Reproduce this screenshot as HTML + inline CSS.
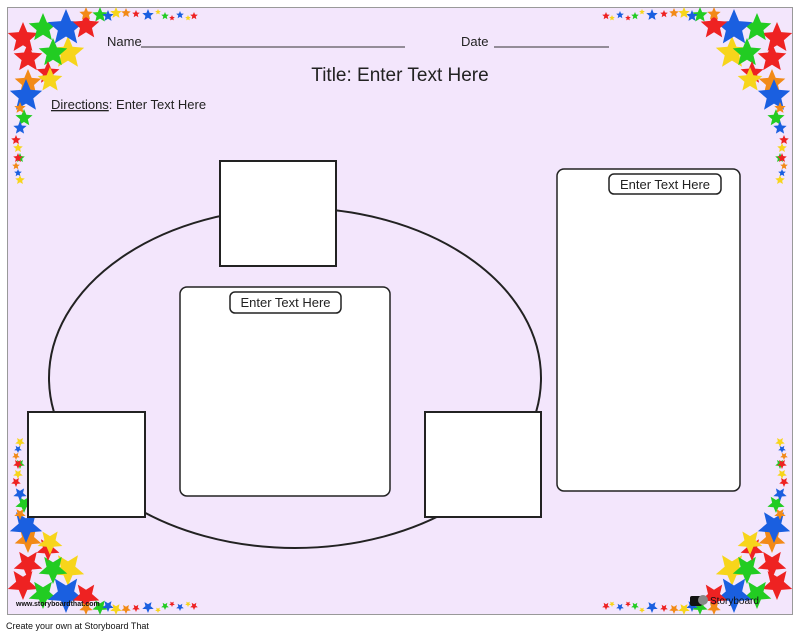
<!DOCTYPE html>
<html><head><meta charset="utf-8"><style>
html,body{margin:0;padding:0;background:#fff;width:800px;height:636px;overflow:hidden}
svg{display:block}
text{font-family:"Liberation Sans",sans-serif}
</style></head><body>
<svg width="800" height="636" viewBox="0 0 800 636" xmlns="http://www.w3.org/2000/svg">
<defs>
<polygon id="s" points="0,-1 .265,-.364 .951,-.309 .428,.139 .588,.809 0,.45 -.588,.809 -.428,.139 -.951,-.309 -.265,-.364"/>
<g id="corner">
<use href="#s" transform="translate(60,45) scale(17)" fill="#f7d51b"/>
<use href="#s" transform="translate(15,30) scale(16)" fill="#ee2222"/>
<use href="#s" transform="translate(35,20) scale(15)" fill="#22cc22"/>
<use href="#s" transform="translate(58,20) scale(19)" fill="#1a5fe0"/>
<use href="#s" transform="translate(78,18) scale(14)" fill="#ee2222"/>
<use href="#s" transform="translate(20,50) scale(15)" fill="#ee2222"/>
<use href="#s" transform="translate(45,45) scale(15)" fill="#22cc22"/>
<use href="#s" transform="translate(20,75) scale(14)" fill="#f28a17"/>
<use href="#s" transform="translate(40,65) scale(12)" fill="#ee2222"/>
<use href="#s" transform="translate(42,72) scale(13)" fill="#f7d51b"/>
<use href="#s" transform="translate(18,88) scale(17)" fill="#1a5fe0"/>
<use href="#s" transform="translate(16,110) scale(9)" fill="#22cc22"/>
<use href="#s" transform="translate(12,100) scale(6)" fill="#f28a17"/>
<use href="#s" transform="translate(12,120) scale(7)" fill="#1a5fe0"/>
<use href="#s" transform="translate(8,132) scale(5)" fill="#ee2222"/>
<use href="#s" transform="translate(10,140) scale(5)" fill="#f7d51b"/>
<use href="#s" transform="translate(12,150) scale(5)" fill="#22cc22"/>
<use href="#s" transform="translate(8,158) scale(4)" fill="#f28a17"/>
<use href="#s" transform="translate(10,165) scale(4)" fill="#1a5fe0"/>
<use href="#s" transform="translate(12,172) scale(5)" fill="#f7d51b"/>
<use href="#s" transform="translate(10,150) scale(5)" fill="#ee2222"/>
<use href="#s" transform="translate(78,6) scale(7)" fill="#f28a17"/>
<use href="#s" transform="translate(92,7) scale(8)" fill="#22cc22"/>
<use href="#s" transform="translate(100,8) scale(6)" fill="#1a5fe0"/>
<use href="#s" transform="translate(108,5) scale(6)" fill="#f7d51b"/>
<use href="#s" transform="translate(118,5) scale(5)" fill="#f28a17"/>
<use href="#s" transform="translate(128,6) scale(4)" fill="#ee2222"/>
<use href="#s" transform="translate(140,7) scale(6)" fill="#1a5fe0"/>
<use href="#s" transform="translate(150,4) scale(3)" fill="#f7d51b"/>
<use href="#s" transform="translate(157,8) scale(4)" fill="#22cc22"/>
<use href="#s" transform="translate(164,10) scale(3)" fill="#ee2222"/>
<use href="#s" transform="translate(172,7) scale(4)" fill="#1a5fe0"/>
<use href="#s" transform="translate(180,10) scale(3)" fill="#f7d51b"/>
<use href="#s" transform="translate(186,8) scale(4)" fill="#ee2222"/>
</g>
</defs>
<rect x="7.5" y="7.5" width="785" height="607" fill="#f3e6fc" stroke="#999" stroke-width="1"/>
<use href="#corner" transform="translate(8,8)"/>
<use href="#corner" transform="translate(792,8) scale(-1,1)"/>
<use href="#corner" transform="translate(8,614) scale(1,-1)"/>
<use href="#corner" transform="translate(792,614) scale(-1,-1)"/>

<text x="107" y="46" font-size="13" fill="#222">Name</text>
<line x1="141" y1="47" x2="405" y2="47" stroke="#333" stroke-width="1"/>
<text x="461" y="46" font-size="13" fill="#222">Date</text>
<line x1="494" y1="47" x2="609" y2="47" stroke="#333" stroke-width="1"/>
<text x="400" y="81" font-size="19" text-anchor="middle" fill="#222">Title: Enter Text Here</text>
<text x="51" y="109" font-size="13" fill="#222"><tspan text-decoration="underline">Directions</tspan>: Enter Text Here</text>

<ellipse cx="295" cy="378" rx="246" ry="170" fill="none" stroke="#222" stroke-width="2"/>
<rect x="220" y="161" width="116" height="105" fill="#fff" stroke="#222" stroke-width="2"/>
<rect x="28" y="412" width="117" height="105" fill="#fff" stroke="#222" stroke-width="2"/>
<rect x="425" y="412" width="116" height="105" fill="#fff" stroke="#222" stroke-width="2"/>
<rect x="180" y="287" width="210" height="209" rx="7" fill="#fff" stroke="#222" stroke-width="1.5"/>
<rect x="230" y="292" width="111" height="21" rx="5" fill="#fff" stroke="#222" stroke-width="1.5"/>
<text x="285.5" y="307" font-size="13" text-anchor="middle" fill="#222">Enter Text Here</text>
<rect x="557" y="169" width="183" height="322" rx="7" fill="#fff" stroke="#222" stroke-width="1.5"/>
<rect x="609" y="174" width="112" height="20" rx="5" fill="#fff" stroke="#222" stroke-width="1.5"/>
<text x="665" y="189" font-size="13" text-anchor="middle" fill="#222">Enter Text Here</text>

<text x="16" y="606" font-size="7" font-weight="bold" fill="#111">www.storyboardthat.com</text>
<rect x="690" y="596" width="12" height="10" rx="2" fill="#111"/>
<circle cx="703" cy="600" r="5" fill="#888"/>
<text x="710" y="604" font-size="10" fill="#111">Storyboard</text>
<text x="6" y="629" font-size="9" fill="#111">Create your own at Storyboard That</text>
</svg>
</body></html>
